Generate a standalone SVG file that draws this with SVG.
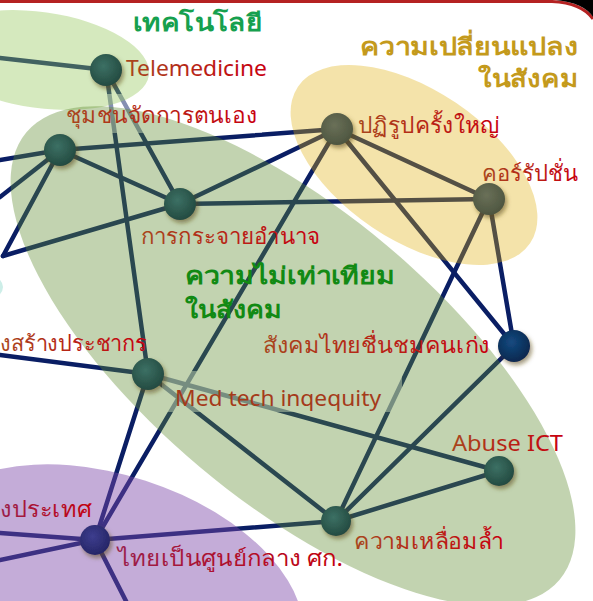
<svg xmlns="http://www.w3.org/2000/svg" width="593" height="601" viewBox="0 0 593 601">
<defs>
<style>
.ln{stroke:#0a1e64;stroke-width:4.5;fill:none;stroke-linecap:round}
.fade{fill:#fff;opacity:0.5}
.lbl{font-family:"Noto Sans","DejaVu Sans",sans-serif;font-size:22px;fill:url(#tg)}
.lblp{font-family:"Noto Sans","DejaVu Sans",sans-serif;font-size:22px;fill:url(#tp)}
.ttl{font-family:"Noto Sans","DejaVu Sans",sans-serif;font-size:24px;font-weight:bold}
.nd{filter:url(#sh)}
</style>
<linearGradient id="tg" x1="0" y1="0" x2="1" y2="0"><stop offset="0" stop-color="#a8461c"/><stop offset="1" stop-color="#c8000e"/></linearGradient>
<linearGradient id="tp" x1="0" y1="0" x2="1" y2="0"><stop offset="0" stop-color="#9a1f4c"/><stop offset="1" stop-color="#c4000e"/></linearGradient>
<radialGradient id="gt" cx="0.42" cy="0.38" r="0.62"><stop offset="0" stop-color="#3c7064"/><stop offset="1" stop-color="#244b41"/></radialGradient>
<radialGradient id="go" cx="0.42" cy="0.38" r="0.62"><stop offset="0" stop-color="#6a7058"/><stop offset="1" stop-color="#4e5640"/></radialGradient>
<radialGradient id="gn" cx="0.42" cy="0.38" r="0.62"><stop offset="0" stop-color="#154a80"/><stop offset="1" stop-color="#08284f"/></radialGradient>
<radialGradient id="gp" cx="0.42" cy="0.38" r="0.62"><stop offset="0" stop-color="#3d3d8e"/><stop offset="1" stop-color="#262667"/></radialGradient>
<filter id="sh" x="-50%" y="-50%" width="200%" height="200%"><feDropShadow dx="2" dy="3" stdDeviation="2" flood-color="#5a4a14" flood-opacity="0.55"/></filter>
</defs>
<rect width="593" height="601" fill="#fff"/>

<g id="connectors">
<line class="ln" x1="0" y1="58" x2="106" y2="70"/>
<line class="ln" x1="106" y1="70" x2="180" y2="204"/>
<line class="ln" x1="106" y1="70" x2="148" y2="374"/>
<line class="ln" x1="0" y1="160" x2="60" y2="150"/>
<line class="ln" x1="0" y1="197" x2="60" y2="150"/>
<line class="ln" x1="3" y1="256" x2="60" y2="150"/>
<line class="ln" x1="3" y1="256" x2="180" y2="204"/>
<line class="ln" x1="60" y1="150" x2="337" y2="129"/>
<line class="ln" x1="60" y1="150" x2="180" y2="204"/>
<line class="ln" x1="180" y1="204" x2="337" y2="129"/>
<line class="ln" x1="180" y1="204" x2="489" y2="199"/>
<line class="ln" x1="337" y1="129" x2="489" y2="199"/>
<line class="ln" x1="337" y1="129" x2="514" y2="346"/>
<line class="ln" x1="337" y1="129" x2="95" y2="540"/>
<line class="ln" x1="489" y1="199" x2="336" y2="521"/>
<line class="ln" x1="489" y1="199" x2="514" y2="346"/>
<line class="ln" x1="514" y1="346" x2="336" y2="521"/>
<line class="ln" x1="0" y1="355" x2="148" y2="374"/>
<line class="ln" x1="148" y1="374" x2="499" y2="471"/>
<line class="ln" x1="148" y1="374" x2="336" y2="521"/>
<line class="ln" x1="148" y1="374" x2="95" y2="540"/>
<line class="ln" x1="499" y1="471" x2="336" y2="521"/>
<line class="ln" x1="336" y1="521" x2="95" y2="540"/>
<line class="ln" x1="0" y1="533" x2="95" y2="540"/>
<line class="ln" x1="0" y1="560" x2="95" y2="540"/>
<line class="ln" x1="95" y1="540" x2="128" y2="605"/>
</g>

<g id="label-fades">
<rect class="fade" x="64" y="94" width="198" height="39"/>
<rect class="fade" x="162" y="371" width="240" height="41"/>
</g>

<g id="groups">
<ellipse id="grp-tech" cx="40" cy="60" rx="110" ry="48" transform="rotate(8 40 60)" fill="rgb(150,200,92)" opacity="0.4"/>
<ellipse id="grp-inequality" cx="293" cy="356" rx="348" ry="145" transform="rotate(40 293 356)" fill="rgb(95,139,47)" opacity="0.38"/>
<ellipse id="grp-change" cx="414" cy="165" rx="140" ry="75" transform="rotate(34 414 165)" fill="rgb(224,175,12)" opacity="0.35"/>
<ellipse id="grp-global" cx="110" cy="590" rx="200" ry="115" transform="rotate(18 110 590)" fill="rgb(124,71,169)" opacity="0.45"/>
<ellipse id="grp-cyan" cx="-50" cy="287" rx="53" ry="22" fill="#cdeee8"/>
</g>

<g id="frame">
<path d="M0 1.5 L552 1.5 Q582 3 593 19" fill="none" stroke="#b52222" stroke-width="3"/>
<path d="M556 0 L593 0 L593 17 Q584 3 556 0 Z" fill="#000"/>
</g>

<g id="node-telemedicine"><circle class="nd" cx="106" cy="70" r="16" fill="url(#gt)"/><text class="lbl" x="126" y="76" textLength="141" lengthAdjust="spacingAndGlyphs">Telemedicine</text></g>
<g id="node-community"><circle class="nd" cx="60" cy="150" r="16" fill="url(#gt)"/><text class="lbl" x="66" y="123" textLength="191" lengthAdjust="spacingAndGlyphs">ชุมชนจัดการตนเอง</text></g>
<g id="node-decentral"><circle class="nd" cx="180" cy="204" r="16" fill="url(#gt)"/><text class="lbl" x="141" y="244" textLength="179" lengthAdjust="spacingAndGlyphs">การกระจายอำนาจ</text></g>
<g id="node-reform"><circle class="nd" cx="337" cy="129" r="16" fill="url(#go)"/><text class="lbl" x="358" y="133" textLength="142" lengthAdjust="spacingAndGlyphs">ปฏิรูปครั้งใหญ่</text></g>
<g id="node-corruption"><circle class="nd" cx="489" cy="199" r="16" fill="url(#go)"/><text class="lbl" x="482" y="181" textLength="96" lengthAdjust="spacingAndGlyphs">คอร์รัปชั่น</text></g>
<g id="node-admire"><circle class="nd" cx="514" cy="346" r="16" fill="url(#gn)"/><text class="lbl" x="263" y="353" textLength="227" lengthAdjust="spacingAndGlyphs">สังคมไทยชื่นชมคนเก่ง</text></g>
<g id="node-medtech"><circle class="nd" cx="148" cy="374" r="16" fill="url(#gt)"/><text class="lbl" x="175" y="406" textLength="206" lengthAdjust="spacingAndGlyphs" style="fill:#a53a1a">Med tech inqequity</text></g>
<g id="node-population"><text class="lbl" x="0" y="351" textLength="147" lengthAdjust="spacingAndGlyphs">งสร้างประชากร</text></g>
<g id="node-abuse"><circle class="nd" cx="499" cy="471" r="15" fill="url(#gt)"/><text class="lbl" x="452" y="451" textLength="111" lengthAdjust="spacingAndGlyphs">Abuse ICT</text></g>
<g id="node-gap"><circle class="nd" cx="336" cy="521" r="15" fill="url(#gt)"/><text class="lbl" x="354" y="549" textLength="150" lengthAdjust="spacingAndGlyphs">ความเหลื่อมล้ำ</text></g>
<g id="node-foreign"><text class="lblp" x="0" y="517" textLength="92" lengthAdjust="spacingAndGlyphs">งประเทศ</text></g>
<g id="node-hub"><circle class="nd" cx="95" cy="540" r="15" fill="url(#gp)"/><text class="lblp" x="118" y="566" textLength="225" lengthAdjust="spacingAndGlyphs">ไทยเป็นศูนย์กลาง ศก.</text></g>

<g id="titles">
<text class="ttl" x="133" y="31" textLength="129" lengthAdjust="spacingAndGlyphs" fill="#16a04e">เทคโนโลยี</text>
<text class="ttl" x="360" y="55" textLength="218" lengthAdjust="spacingAndGlyphs" fill="#c49a1c">ความเปลี่ยนแปลง</text>
<text class="ttl" x="478" y="87" textLength="100" lengthAdjust="spacingAndGlyphs" fill="#c49a1c">ในสังคม</text>
<text class="ttl" x="185" y="284" textLength="210" lengthAdjust="spacingAndGlyphs" fill="#128a14">ความไม่เท่าเทียม</text>
<text class="ttl" x="185" y="318" textLength="97" lengthAdjust="spacingAndGlyphs" fill="#128a14">ในสังคม</text>
</g>
</svg>
